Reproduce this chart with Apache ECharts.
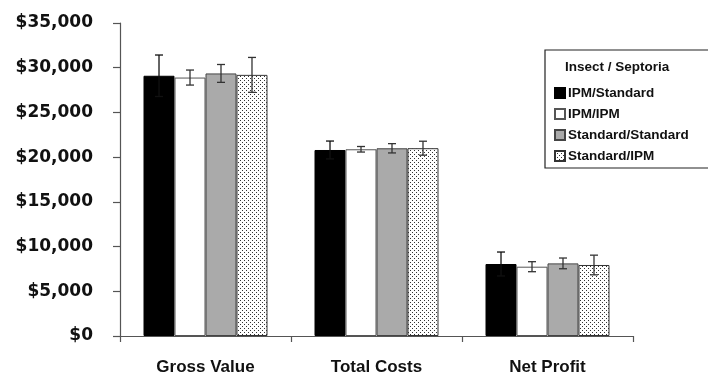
<!DOCTYPE html>
<html>
<head>
<meta charset="utf-8">
<script src="https://cdn.jsdelivr.net/npm/echarts@6/dist/echarts.min.js"></script>
<style>html,body{margin:0;padding:0;background:#fff}#c{width:708px;height:378px}</style>
</head>
<body>
<div id="c"></div>
<script>
var categories = ['Gross Value', 'Total Costs', 'Net Profit'];
var seriesNames = ['IPM/Standard', 'IPM/IPM', 'Standard/Standard', 'Standard/IPM'];
var ipmStandard = [29100, 20800, 8050];
var ipmIpm = [28900, 20880, 7750];
var stdStd = [29360, 20990, 8120];
var stdIpm = [29200, 21000, 7940];
var ipmStandardErr = [2320, 1000, 1340];
var ipmIpmErr = [840, 310, 560];
var stdStdErr = [1000, 520, 600];
var stdIpmErr = [1950, 780, 1100];
var yTicks = [0, 5000, 10000, 15000, 20000, 25000, 30000, 35000];
var legendTitle = 'Insect / Septoria';

var values = [ipmStandard, ipmIpm, stdStd, stdIpm];
var errs = [ipmStandardErr, ipmIpmErr, stdStdErr, stdIpmErr];

// dotted pattern
var pc = document.createElement('canvas');
pc.width = 4; pc.height = 4;
var pctx = pc.getContext('2d');
pctx.fillStyle = '#fff'; pctx.fillRect(0, 0, 4, 4);
pctx.fillStyle = '#333';
pctx.fillRect(0, 0, 1, 1);
pctx.fillRect(2, 2, 1, 1);

var fills = ['#000000', '#ffffff', '#aaaaaa', { image: pc, repeat: 'repeat' }];
var borders = ['#000000', '#555555', '#444444', '#333333'];
var gapRatio = 0.275;

var errData = [];
for (var s = 0; s < 4; s++) {
  for (var c = 0; c < categories.length; c++) {
    errData.push([c, s, values[s][c] - errs[s][c], values[s][c] + errs[s][c]]);
  }
}

var series = seriesNames.map(function (n, i) {
  return {
    name: n,
    type: 'bar',
    data: values[i],
    barGap: '0%',
    barCategoryGap: (gapRatio * 100) + '%',
    itemStyle: { color: fills[i], borderColor: borders[i], borderWidth: 1 },
    emphasis: { disabled: true }
  };
});

series.push({
  type: 'custom',
  name: 'err',
  data: errData,
  z: 10,
  renderItem: function (params, api) {
    var cat = api.value(0), s = api.value(1);
    var band = api.size([1, 0])[0];
    var bw = band * (1 - gapRatio) / 4;
    var cx = api.coord([cat, 0])[0] + (s - 1.5) * bw;
    var lo = api.coord([cat, api.value(2)])[1];
    var hi = api.coord([cat, api.value(3)])[1];
    var hw = 4;
    var st = { stroke: s === 0 ? '#111' : '#333', lineWidth: 1.3 };
    return {
      type: 'group',
      children: [
        { type: 'line', shape: { x1: cx, y1: lo, x2: cx, y2: hi }, style: st },
        { type: 'line', shape: { x1: cx - hw, y1: hi, x2: cx + hw, y2: hi }, style: st },
        { type: 'line', shape: { x1: cx - hw, y1: lo, x2: cx + hw, y2: lo }, style: st }
      ]
    };
  }
});

var chart = echarts.init(document.getElementById('c'), null, { renderer: 'canvas' });
chart.setOption({
  animation: false,
  backgroundColor: '#fff',
  grid: { left: 120, right: 75, top: 23, bottom: 42, containLabel: false },
  xAxis: {
    type: 'category',
    data: categories,
    axisLine: { lineStyle: { color: '#555', width: 1.2 } },
    axisTick: { show: true, length: 6, lineStyle: { color: '#555', width: 1.2 } },
    axisLabel: { margin: 23, fontFamily: 'Liberation Sans', fontWeight: 'bold', fontSize: 17, color: '#111' }
  },
  yAxis: {
    type: 'value',
    min: yTicks[0],
    max: yTicks[yTicks.length - 1],
    interval: 5000,
    splitLine: { show: false },
    axisLine: { show: true, lineStyle: { color: '#555', width: 1.2 } },
    axisTick: { show: true, length: 7, lineStyle: { color: '#555', width: 1.2 } },
    axisLabel: {
      margin: 27,
      fontFamily: 'DejaVu Sans',
      fontWeight: 'bold',
      fontSize: 17,
      color: '#111',
      formatter: function (v) { return '$' + v.toLocaleString('en-US'); }
    }
  },
  legend: {
    data: seriesNames,
    orient: 'vertical',
    left: 554,
    top: 86,
    itemWidth: 10,
    itemHeight: 10,
    itemGap: 7,
    icon: 'rect',
    selectedMode: false,
    padding: 0,
    textStyle: { fontFamily: 'Liberation Sans', fontWeight: 'bold', fontSize: 13.5, color: '#111', lineHeight: 14, padding: [0, 0, 0, -2] }
  },
  graphic: [
    { type: 'rect', shape: { x: 545, y: 50, width: 200, height: 118 }, style: { fill: 'none', stroke: '#222', lineWidth: 1.2 }, z: 100 },
    { type: 'text', x: 565, y: 67, style: { text: legendTitle, fontFamily: 'Liberation Sans', fontWeight: 'bold', fontSize: 13.5, fill: '#111', textVerticalAlign: 'middle' }, z: 100 }
  ],
  series: series
});
</script>
</body>
</html>
